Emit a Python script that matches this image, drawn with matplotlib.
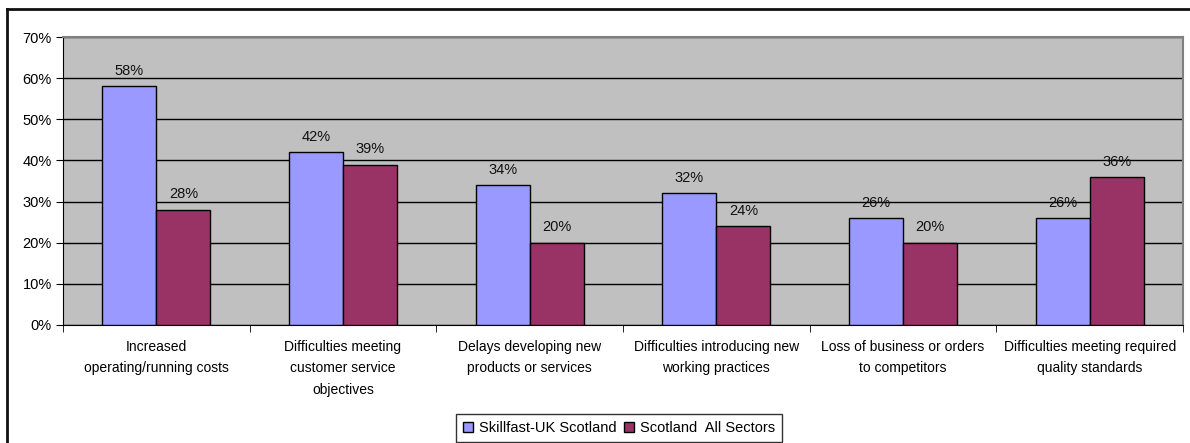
import matplotlib
matplotlib.use('Agg')
import matplotlib.pyplot as plt
from matplotlib.lines import Line2D
import numpy as np

plt.rcParams['font.family'] = ['Liberation Sans', 'DejaVu Sans']

# data
categories = [
    "Increased\noperating/running costs",
    "Difficulties meeting\ncustomer service\nobjectives",
    "Delays developing new\nproducts or services",
    "Difficulties introducing new\nworking practices",
    "Loss of business or orders\nto competitors",
    "Difficulties meeting required\nquality standards",
]
skillfast = [58, 42, 34, 32, 26, 26]
scotland_all = [28, 39, 20, 24, 20, 36]
series_names = ["Skillfast-UK Scotland", "Scotland  All Sectors"]
yticks = [0, 10, 20, 30, 40, 50, 60, 70]

W, H = 1190, 443
fig = plt.figure(figsize=(W / 100, H / 100), dpi=100)
ax = fig.add_axes([63 / W, 118 / H, 1120 / W, 288 / H])

# outer chart frame (only left and top edges are inside the crop)
fy = (H - 8.5) / H
fx = 6.5 / W
fig.add_artist(Line2D([fx, fx], [0, fy], transform=fig.transFigure,
                      color='#111111', linewidth=2, solid_capstyle='projecting'))
fig.add_artist(Line2D([fx, 1.01], [fy, fy], transform=fig.transFigure,
                      color='#111111', linewidth=2, solid_capstyle='projecting'))

x = np.arange(len(categories))
w = 0.29
ax.set_facecolor('#C0C0C0')
b1 = ax.bar(x - w / 2, skillfast, w, color='#9999FF', edgecolor='black',
            linewidth=1, label=series_names[0], zorder=3)
b2 = ax.bar(x + w / 2, scotland_all, w, color='#993366', edgecolor='black',
            linewidth=1, label=series_names[1], zorder=3)

for bars in (b1, b2):
    for r in bars:
        ax.annotate(f"{int(r.get_height())}%",
                    (r.get_x() + r.get_width() / 2, r.get_height()),
                    xytext=(0, 6), textcoords='offset points',
                    ha='center', va='bottom', fontsize=10.5, color='#111111')

ax.set_xlim(-0.5, len(categories) - 0.5)
ax.set_ylim(0, 70)
ax.set_yticks(yticks)
ax.set_yticklabels([f"{v}%" for v in yticks], fontsize=10.5)
ax.yaxis.grid(True, color='black', linewidth=1, zorder=1)
ax.set_axisbelow(True)

ax.set_xticks(np.arange(len(categories) + 1) - 0.5, minor=True)
ax.set_xticks(x)
ax.set_xticklabels(categories, fontsize=10, linespacing=1.65)
ax.tick_params(axis='x', which='major', length=0, pad=11)
ax.tick_params(axis='x', which='minor', length=5, direction='out', color='black')
ax.tick_params(axis='y', length=5, direction='out', pad=3)

for s in ('top', 'right'):
    ax.spines[s].set_color('#808080')
    ax.spines[s].set_linewidth(1.5)
ax.spines['left'].set_color('black')
ax.spines['bottom'].set_color('black')

leg = fig.legend(loc='center', bbox_to_anchor=(619 / W, (H - 428) / H),
                 ncol=2, fontsize=10.5, frameon=True, fancybox=False,
                 handlelength=0.7, handleheight=0.7, handletextpad=0.4,
                 columnspacing=0.5, borderpad=0.5, borderaxespad=0)
leg.get_frame().set_edgecolor('black')
leg.get_frame().set_linewidth(1)

fig.savefig('out.png', dpi=100, facecolor='white')
